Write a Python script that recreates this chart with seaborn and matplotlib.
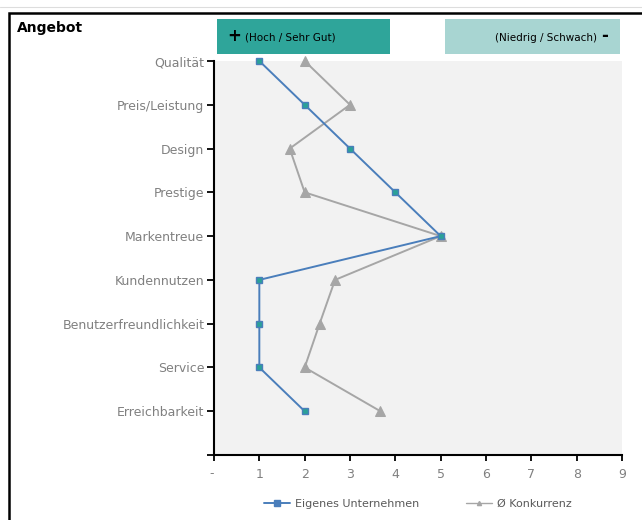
import matplotlib
matplotlib.use("Agg")
import matplotlib.pyplot as plt
import seaborn as sns
import pandas as pd
from matplotlib.patches import Rectangle
from matplotlib.lines import Line2D

categories = ["Qualität", "Preis/Leistung", "Design", "Prestige", "Markentreue",
              "Kundennutzen", "Benutzerfreundlichkeit", "Service", "Erreichbarkeit"]
eigenes = [1, 2, 3, 4, 5, 1, 1, 1, 2]
konkurrenz = [2, 3, 1.67, 2, 5, 2.67, 2.33, 2, 3.67]
x_ticklabels = ["-", "1", "2", "3", "4", "5", "6", "7", "8", "9"]
series_names = ["Eigenes Unternehmen", "Ø Konkurrenz"]

sns.set_theme(style="white")
plt.rcParams['font.family'] = ['DejaVu Sans']

df = pd.DataFrame({
    "pos": list(range(len(categories))) * 2,
    "wert": eigenes + konkurrenz,
    "serie": [series_names[0]] * len(categories) + [series_names[1]] * len(categories),
})

fig = plt.figure(figsize=(6.42, 5.20), dpi=100)
ax = fig.add_axes([214/642, 1-455/520, (622-214)/642, (455-61)/520])
ax.set_facecolor("#f2f2f2")

blue = "#4a7ebb"
gray = "#a6a6a6"

sns.lineplot(data=df[df.serie == series_names[1]], x="wert", y="pos", sort=False,
             estimator=None, orient="y", color=gray, linewidth=1.4, marker="^",
             markersize=7, markeredgecolor=gray, markerfacecolor=gray, ax=ax,
             legend=False, clip_on=False)
sns.lineplot(data=df[df.serie == series_names[0]], x="wert", y="pos", sort=False,
             estimator=None, orient="y", color=blue, linewidth=1.4, marker="s",
             markersize=5, markeredgecolor=blue, markerfacecolor="#2aa198",
             markeredgewidth=1.0, ax=ax, legend=False, clip_on=False)

ax.set_xlim(0, 9)
ax.set_ylim(9, 0)
ax.set_xticks(range(10))
ax.set_xticklabels(x_ticklabels)
ax.set_yticks(range(10))
ax.set_yticklabels(categories + [""])
ax.set_xlabel("")
ax.set_ylabel("")
for s in ["top", "right"]:
    ax.spines[s].set_visible(False)
for s in ["left", "bottom"]:
    ax.spines[s].set_color("black")
    ax.spines[s].set_linewidth(1.5)
ax.tick_params(axis="both", which="both", direction="out", length=5, width=1.3,
               color="black", labelcolor="#808080", labelsize=9,
               left=True, bottom=True)
ax.tick_params(axis="y", pad=2)
ax.tick_params(axis="x", pad=5, length=4)
ax.get_xticklabels()[0].set_horizontalalignment("right")
ax.grid(False)

# outer frame
fig.patches.append(Rectangle((9/642, -0.1), 1.2, 1-13/520+0.1, transform=fig.transFigure,
                             fill=False, edgecolor="black", linewidth=1.8, zorder=0))
fig.add_artist(Line2D([0, 1], [1-7/520, 1-7/520], transform=fig.transFigure,
                      color="#dddddd", linewidth=0.8))

fig.text(17/642, 1-28/520, "Angebot", fontsize=10, fontweight="bold", color="black",
         va="center", ha="left")

# header boxes
fig.patches.append(Rectangle((217/642, 1-54/520), (390-217)/642, 35/520, transform=fig.transFigure,
                             facecolor="#2fa59a", edgecolor="none"))
fig.patches.append(Rectangle((445/642, 1-54/520), (620-445)/642, 35/520, transform=fig.transFigure,
                             facecolor="#a8d5d2", edgecolor="none"))
fig.text(227/642, 1-36/520, "+", fontsize=12, fontweight="bold", color="black", va="center", ha="left")
fig.text(245/642, 1-38/520, "(Hoch / Sehr Gut)", fontsize=7.5, color="black", va="center", ha="left")
fig.text(597/642, 1-38/520, "(Niedrig / Schwach)", fontsize=7.5, color="black", va="center", ha="right")
fig.text(601/642, 1-36/520, "-", fontsize=12, fontweight="bold", color="black", va="center", ha="left")

handles = [Line2D([], [], color=blue, linewidth=1.4, marker="s", markersize=4,
                  markerfacecolor=blue, markeredgecolor=blue),
           Line2D([], [], color=gray, linewidth=1.0, marker="^", markersize=3,
                  markerfacecolor=gray, markeredgecolor=gray)]
fig.legend(handles, series_names, loc="center", bbox_to_anchor=(418/642, 1-504/520),
           ncol=2, frameon=False, fontsize=8, labelcolor="#595959",
           handlelength=2.3, columnspacing=4.2, handletextpad=0.5)

fig.savefig("out.png", dpi=100)
